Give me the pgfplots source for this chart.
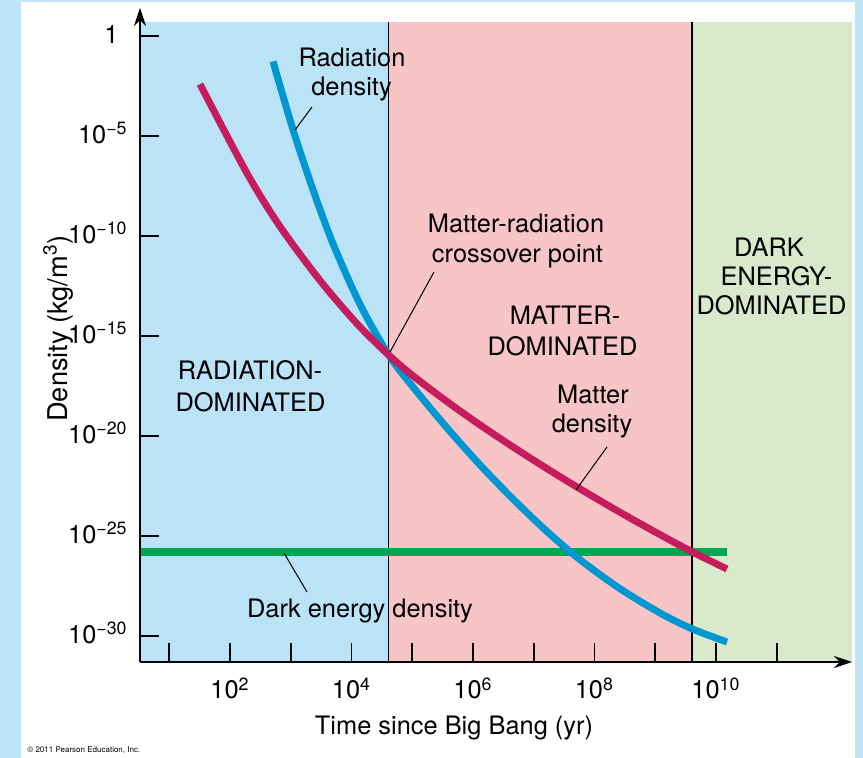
\documentclass[border=0pt]{standalone}
\usepackage{fontspec}
\setmainfont{TeX Gyre Heros}
\usepackage{pgfplots}
\pgfplotsset{compat=1.18}
\usetikzlibrary{arrows.meta}

\definecolor{outerbg}{RGB}{190,228,247}
\definecolor{radbg}{RGB}{187,227,247}
\definecolor{matbg}{RGB}{248,197,198}
\definecolor{debg}{RGB}{217,234,204}
\definecolor{radline}{RGB}{0,150,210}
\definecolor{matline}{RGB}{196,28,92}
\definecolor{deline}{RGB}{0,166,81}

\newcommand{\lblfont}{\fontsize{12.7}{15}\selectfont}

\begin{document}
\begin{tikzpicture}
\begin{scope}[x=0.5pt,y=-0.5pt,shift={(-70pt,331pt)}]
 \fill[outerbg] (0,0) rectangle (863,758);
 \fill[white] (21,2) rectangle (855,758);
 \useasboundingbox (0,0) rectangle (863,758);
\end{scope}

\begin{axis}[
  at={(0,0)}, anchor=south west,
  scale only axis, width=356pt, height=327pt,
  xmode=log, ymode=log,
  xmin=3.304, xmax=1.738e12,
  ymin=5.012e-32, ymax=25.12,
  axis on top,
  axis lines=left,
  x axis line style={line width=0.9pt,-{Stealth[length=9pt,width=6pt]}},
  y axis line style={line width=0.9pt,-{Stealth[length=9pt,width=6pt]}},
  tick align=inside,
  major tick length=9.5pt,
  tick style={line width=0.9pt,black},
  xminorticks=false, yminorticks=false,
  xtick={1e1,1e2,1e3,1e4,1e5,1e6,1e7,1e8,1e9,1e10,1e11},
  xticklabels={,10\textsuperscript{2},,10\textsuperscript{4},,10\textsuperscript{6},,10\textsuperscript{8},,10\textsuperscript{10},},
  ytick={1,1e-5,1e-10,1e-15,1e-20,1e-25,1e-30},
  yticklabels={1\kern4.5pt,10\textsuperscript{−5},10\textsuperscript{−10},10\textsuperscript{−15},10\textsuperscript{−20},10\textsuperscript{−25},10\textsuperscript{−30}},
  x tick label style={font=\lblfont, anchor=base, yshift=-18.5pt, inner sep=0pt},
  y tick label style={font=\lblfont, anchor=base east, xshift=-6pt, yshift=-3.75pt, inner sep=0pt},
  xlabel={Time since Big Bang (yr)},
  ylabel={Density (kg/m\textsuperscript{3})},
  xlabel style={font=\lblfont, at={(axis description cs:0.441,-0.1116)}, anchor=base, inner sep=0pt},
  ylabel style={font=\fontsize{13.6}{16}\selectfont, at={(axis description cs:-0.1025,0.510)}, anchor=base, inner sep=0pt},
]
% background eras
\addplot[draw=none, fill=radbg] coordinates {(3.304,5.012e-32) (4.1e4,5.012e-32) (4.1e4,5.012) (3.304,5.012)} -- cycle;
\addplot[draw=none, fill=matbg] coordinates {(4.1e4,5.012e-32) (4.03e9,5.012e-32) (4.03e9,5.012) (4.1e4,5.012)} -- cycle;
\addplot[draw=none, fill=debg] coordinates {(4.03e9,5.012e-32) (1.738e12,5.012e-32) (1.738e12,5.012) (4.03e9,5.012)} -- cycle;
\addplot[black, line width=0.6pt] coordinates {(4.1e4,5.012e-32) (4.1e4,5.012)};
\addplot[black, line width=0.6pt] coordinates {(4.03e9,5.012e-32) (4.03e9,5.012)};
% dark energy density
\addplot[deline, line width=3.6pt] coordinates {(3.304,1.585e-26) (1.52e10,1.585e-26)};
% radiation density
\addplot[radline, line width=3.5pt, smooth] coordinates {
 (511,5.309e-2) (1089,2.113e-5) (2323,2.113e-8) (4955,4.217e-11) (13800,3.890e-14)
 (4.1e4,1.122e-16) (1.028e5,2.844e-18) (3.73e5,2.570e-20) (1.30e6,3.664e-22)
 (4.55e6,7.145e-24) (1.65e7,1.698e-25) (5.77e7,6.577e-27) (2.63e8,2.333e-28)
 (1.20e9,1.416e-29) (4.03e9,2.291e-30) (1.52e10,5.012e-31)};
% matter density
\addplot[matline, line width=3.5pt, smooth] coordinates {
 (32.1,3.899e-3) (190.5,1.384e-7) (665,3.020e-10) (3027,6.053e-13) (12330,4.130e-15)
 (4.1e4,1.122e-16) (1.028e5,1.030e-17) (3.73e5,5.309e-19) (1.30e6,3.614e-20)
 (4.55e6,2.858e-21) (1.65e7,2.344e-22) (5.77e7,2.291e-23) (2.63e8,1.538e-24)
 (1.20e9,1.169e-25) (4.03e9,1.637e-26) (1.52e10,2.239e-27)};
\end{axis}

\begin{scope}[x=0.5pt,y=-0.5pt,shift={(-70pt,331pt)}, every node/.style={font=\lblfont, anchor=base, inner sep=0pt}]
 \node at (352,67) {Radiation};
 \node at (351.5,95.5) {density};
 \draw[line width=0.5pt] (312,107) -- (295,130);
 \node at (516,233) {Matter-radiation};
 \node at (517.5,263) {crossover point};
 \draw[line width=0.5pt] (434,272) -- (390,352);
 \node at (565,325) {MATTER-};
 \node at (562.5,356) {DOMINATED};
 \node at (593,404) {Matter};
 \node at (592,433) {density};
 \draw[line width=0.5pt] (607,447) -- (576,490);
 \node at (250,380) {RADIATION-};
 \node at (250.5,412) {DOMINATED};
 \node at (769,257) {DARK};
 \node at (776.5,286) {ENERGY-};
 \node at (771.5,315) {DOMINATED};
 \node at (360,618) {Dark energy density};
 \draw[line width=0.5pt] (284,553) -- (307,592);
 \node[anchor=base west, font=\fontsize{4}{5}\selectfont] at (27,753) {\textcopyright{} 2011 Pearson Education, Inc.};
\end{scope}
\end{tikzpicture}
\end{document}
